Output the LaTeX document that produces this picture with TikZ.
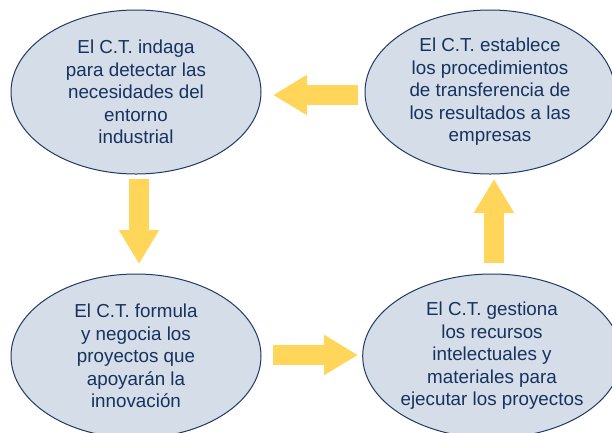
\documentclass[tikz,border=0pt]{standalone}
\usepackage{fontspec}
\setmainfont{Liberation Sans}
\usetikzlibrary{arrows.meta,shapes.geometric}
\definecolor{ellfill}{HTML}{D5DDE8}
\definecolor{elldraw}{HTML}{1F3A64}
\definecolor{elltext}{HTML}{17325E}
\definecolor{arrowyel}{HTML}{FFD55A}
\tikzset{
  stage/.style={ellipse, draw=elldraw, fill=ellfill, line width=1pt,
    minimum width=250pt, minimum height=164pt, inner sep=0pt,
    text=elltext, align=center, font=\fontsize{18.8}{22.5}\selectfont},
  flow/.style={draw=arrowyel, line width=20pt,
    -{Triangle[width=38pt,length=34pt,fill=arrowyel,color=arrowyel]}}
}
\begin{document}
\begin{tikzpicture}[x=1pt,y=-1pt]
\useasboundingbox (0,0) rectangle (612,432);
\node[stage] (a) at (136,92) {El C.T. indaga\\para detectar las\\necesidades del\\entorno\\industrial};
\node[stage] (b) at (490,92) {El C.T. establece\\los procedimientos\\de transferencia de\\los resultados a las\\empresas};
\node[stage] (c) at (136,356) {El C.T. formula\\y negocia los\\proyectos que\\apoyarán la\\innovación};
\node[stage] (d) at (492,356) {El C.T. gestiona\\los recursos\\intelectuales y\\materiales para\\ejecutar los proyectos};
\coordinate (ab1) at (358,95);
\coordinate (ab2) at (273,95);
\coordinate (ac1) at (139,179);
\coordinate (ac2) at (139,264);
\coordinate (cd1) at (273,355);
\coordinate (cd2) at (358,355);
\coordinate (db1) at (494,263);
\coordinate (db2) at (494,179);
\draw[flow] (ab1) -- (ab2);
\draw[flow] (ac1) -- (ac2);
\draw[flow] (cd1) -- (cd2);
\draw[flow] (db1) -- (db2);
\end{tikzpicture}
\end{document}
